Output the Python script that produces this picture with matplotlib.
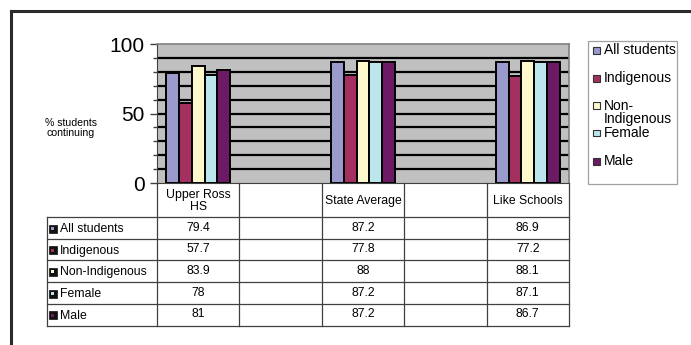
import numpy as np
import matplotlib
matplotlib.use("Agg")
import matplotlib.pyplot as plt
from matplotlib.patches import Rectangle
from matplotlib.lines import Line2D

plt.rcParams['font.family'] = ['Liberation Sans', 'DejaVu Sans']

# Category columns (the blank ones are empty spacer columns)
categories = ["Upper Ross\nHS", "", "State Average", "", "Like Schools"]
series_names = ["All students", "Indigenous", "Non-Indigenous", "Female", "Male"]
legend_names = ["All students", "Indigenous", "Non-\nIndigenous", "Female", "Male"]
all_students = [79.4, None, 87.2, None, 86.9]
indigenous = [57.7, None, 77.8, None, 77.2]
non_indigenous = [83.9, None, 88, None, 88.1]
female = [78, None, 87.2, None, 87.1]
male = [81, None, 87.2, None, 86.7]
series_values = [all_students, indigenous, non_indigenous, female, male]
colors = ['#9a9acd', '#a3305f', '#fdf9cc', '#bce6ee', '#6b1a63']

W, H = 691, 345
fig = plt.figure(figsize=(W / 100, H / 100), dpi=100)


def fx(px):
    return px / W


def fy(py):
    return 1 - py / H


# outer chart frame (top and left edges)
fig.add_artist(Line2D([fx(11), fx(691)], [fy(11), fy(11)], color='#2a2a2a', lw=2.2))
fig.add_artist(Line2D([fx(11), fx(11)], [fy(11), fy(345)], color='#2a2a2a', lw=2.2))

# plot area
px0, px1, py0, py1 = 157, 569, 44, 183
ax = fig.add_axes([fx(px0), fy(py1), fx(px1 - px0), (py1 - py0) / H])
ax.set_facecolor('#c0c0c0')
ax.set_xlim(-0.5, len(categories) - 0.5)
ax.set_ylim(0, 100)
ax.hlines(np.arange(10, 100, 10), -0.5, len(categories) - 0.5, color='black', lw=1.6, zorder=1)

n = len(series_names)
bw = 0.155
x = np.arange(len(categories))
for i, (vals, c) in enumerate(zip(series_values, colors)):
    xs = [xi for xi, v in zip(x, vals) if v is not None]
    vs = [v for v in vals if v is not None]
    ax.bar(np.array(xs) + (i - (n - 1) / 2) * bw, vs, width=bw, color=c,
           edgecolor='black', lw=1.4, zorder=3)

ax.set_yticks([0, 50, 100])
ax.set_yticks(np.arange(0, 101, 10), minor=True)
ax.set_yticklabels(['0', '50', '100'], fontsize=15)
ax.tick_params(axis='y', which='major', length=5, width=1, color='#404040', pad=4)
ax.tick_params(axis='y', which='minor', length=3, width=1, color='#404040')
ax.set_xticks([])
for s in ['top', 'right']:
    ax.spines[s].set_color('#808080')
    ax.spines[s].set_linewidth(1.2)
ax.spines['left'].set_color('#404040')
ax.spines['bottom'].set_color('#404040')

fig.text(fx(71), fy(128), "% students\ncontinuing", ha='center', va='center',
         fontsize=7.6, linespacing=1.1)

# data table under the chart
tcol = '#404040'
col_edges = np.linspace(px0, px1, len(categories) + 1)
row_edges = [183, 217.3, 238.8, 260.3, 282.2, 304.1, 325.8]
label_left = 47
for xe in col_edges:
    fig.add_artist(Line2D([fx(xe), fx(xe)], [fy(183), fy(row_edges[-1])], color=tcol, lw=0.9))
fig.add_artist(Line2D([fx(label_left), fx(label_left)], [fy(row_edges[1]), fy(row_edges[-1])], color=tcol, lw=0.9))
for ye in row_edges[1:]:
    fig.add_artist(Line2D([fx(label_left), fx(px1)], [fy(ye), fy(ye)], color=tcol, lw=0.9))

for j, cat in enumerate(categories):
    cx = (col_edges[j] + col_edges[j + 1]) / 2
    fig.text(fx(cx), fy((row_edges[0] + row_edges[1]) / 2 + 1), cat, ha='center', va='center',
             fontsize=8.8, linespacing=1.0)

for i, (name, vals, c) in enumerate(zip(series_names, series_values, colors)):
    yc = (row_edges[i + 1] + row_edges[i + 2]) / 2
    fig.add_artist(Rectangle((fx(49), fy(yc + 4.5)), fx(8), 8 / H, facecolor='#111111',
                             edgecolor='#111111', lw=0.5))
    fig.add_artist(Rectangle((fx(51.5), fy(yc + 2)), fx(3), 3 / H, facecolor=c, lw=0))
    fig.text(fx(60), fy(yc + 1), name, ha='left', va='center', fontsize=8.8)
    for j, v in enumerate(vals):
        if v is None:
            continue
        cx = (col_edges[j] + col_edges[j + 1]) / 2
        fig.text(fx(cx), fy(yc - 0.5), f"{v:g}", ha='center', va='center', fontsize=8.8)

# legend box
fig.add_artist(Rectangle((fx(588), fy(184)), fx(677 - 588), (184 - 41) / H, facecolor='white',
                         edgecolor='#a0a0a0', lw=0.9))
legend_y = [50, 78, 106, 133, 161]
for name, c, yc in zip(legend_names, colors, legend_y):
    fig.add_artist(Rectangle((fx(593), fy(yc + 3.5)), fx(7), 7 / H, facecolor=c,
                             edgecolor='#333333', lw=0.8))
    if '\n' in name:
        fig.text(fx(604), fy(yc - 7), name, ha='left', va='top', fontsize=10, linespacing=0.9)
    else:
        fig.text(fx(604), fy(yc), name, ha='left', va='center', fontsize=10)

fig.savefig('out.png', dpi=100)
